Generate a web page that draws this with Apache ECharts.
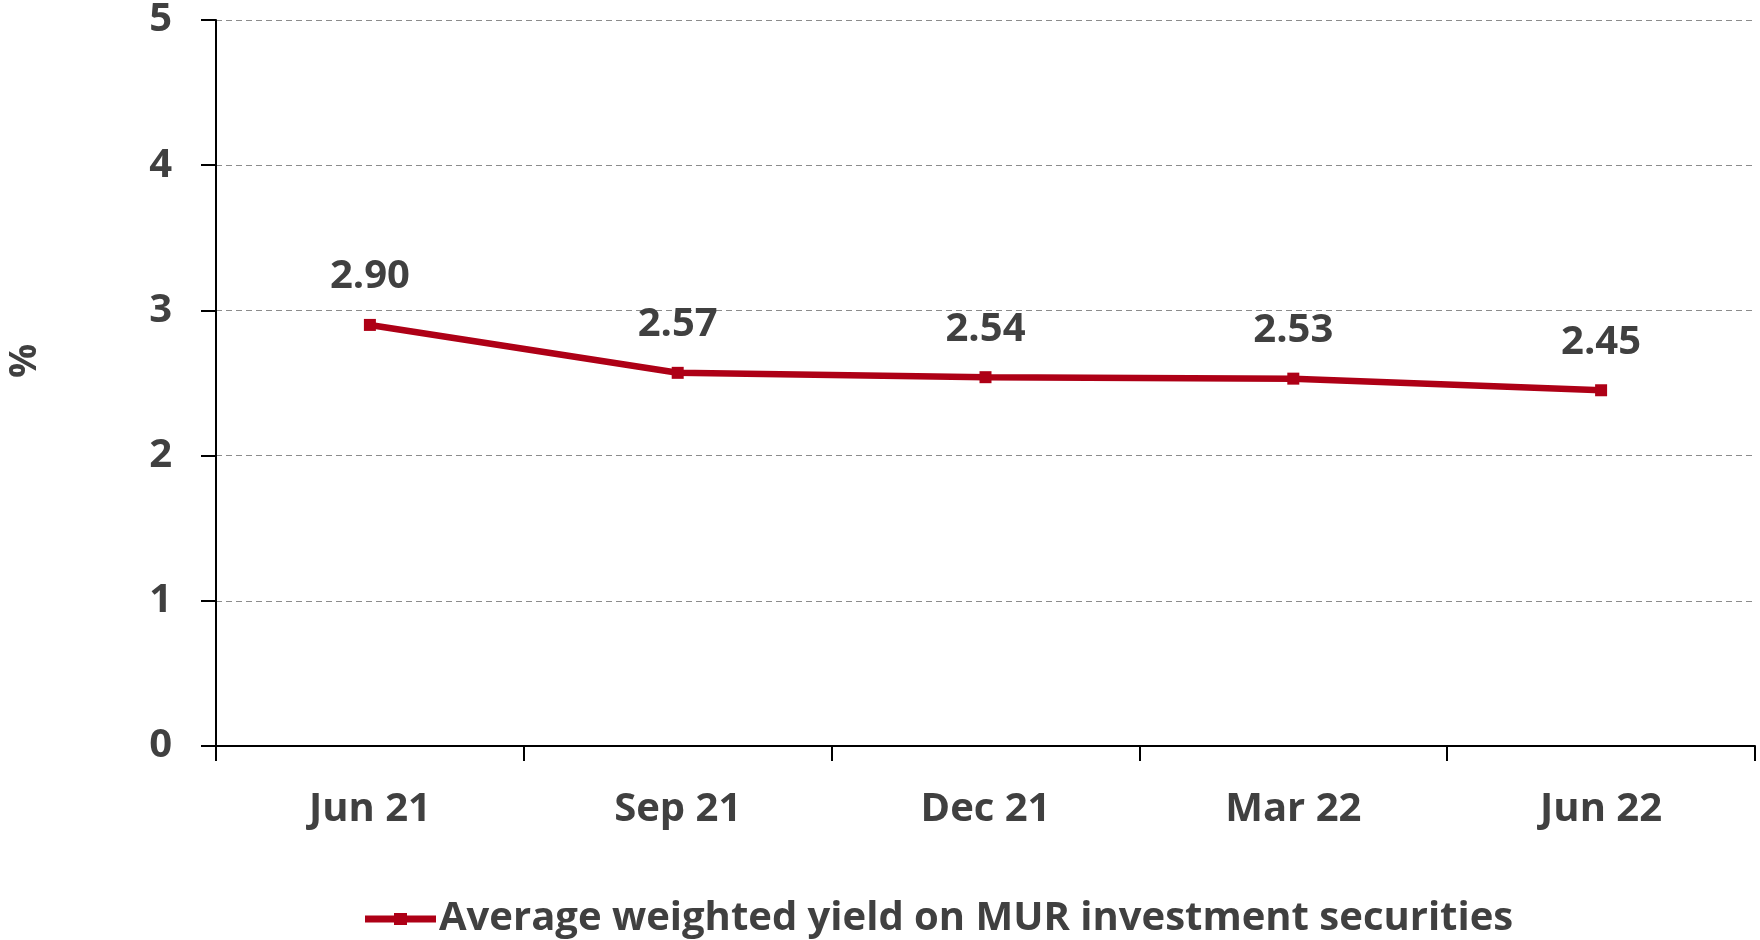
<!DOCTYPE html>
<html>
<head>
<meta charset="utf-8">
<script src="https://cdn.jsdelivr.net/npm/echarts@6/dist/echarts.min.js"></script>
<style>
  html, body { margin: 0; padding: 0; background: #fff; }
  #yield_line { width: 1760px; height: 940px; }
</style>
</head>
<body>
<div id="yield_line"></div>
<script>
// 季度
var quarters = ['Jun 21', 'Sep 21', 'Dec 21', 'Mar 22', 'Jun 22'];
// 收益率 %
var yieldValues = [2.90, 2.57, 2.54, 2.53, 2.45];
var seriesName = 'Average weighted yield on MUR investment securities';
var yTicks = { min: 0, max: 5, interval: 1 };

var textColor = '#404040';
var lineColor = '#AE0016';
var font = '"Open Sans", sans-serif';

var myChart = echarts.init(document.getElementById('yield_line'));
var option = {
    animation: false,
    grid: {
        left: 216,
        right: 5,
        top: 20,
        bottom: 194,
        outerBoundsMode: 'none'
    },
    legend: {
        data: [seriesName],
        left: 360,
        bottom: -4,
        itemWidth: 71,
        itemHeight: 12,
        itemGap: 0,
        // 图例图标：粗线加中间方块
        icon: 'path://M0,2.5 H29 V0 H42 V2.5 H71 V9.5 H42 V12 H29 V9.5 H0 Z',
        textStyle: {
            color: textColor,
            fontSize: 40,
            fontWeight: 'bold',
            fontFamily: font,
            padding: [0, 0, 0, -2]
        }
    },
    xAxis: {
        type: 'category',
        data: quarters,
        boundaryGap: true,
        axisLine: { lineStyle: { color: '#000', width: 2 } },
        axisTick: { show: true, length: 15, lineStyle: { color: '#000', width: 2 } },
        axisLabel: {
            color: textColor,
            fontSize: 40,
            fontWeight: 'bold',
            fontFamily: font,
            margin: 44
        }
    },
    yAxis: {
        type: 'value',
        min: yTicks.min,
        max: yTicks.max,
        interval: yTicks.interval,
        name: '%',
        nameLocation: 'middle',
        nameRotate: 90,
        nameGap: 172,
        nameTextStyle: {
            color: textColor,
            fontSize: 38,
            fontWeight: 'bold',
            fontFamily: font,
            padding: [0, 0, 0, 44]
        },
        axisLine: { show: true, lineStyle: { color: '#000', width: 2 } },
        axisTick: { show: true, length: 15, lineStyle: { color: '#000', width: 2 } },
        axisLabel: {
            color: textColor,
            fontSize: 40,
            fontWeight: 'bold',
            fontFamily: font,
            margin: 44
        },
        splitLine: {
            show: true,
            lineStyle: { color: '#8c8c8c', type: [6, 4], width: 1 }
        }
    },
    series: [{
        name: seriesName,
        type: 'line',
        data: yieldValues,
        symbol: 'rect',
        symbolSize: 12,
        lineStyle: { color: lineColor, width: 6.5 },
        itemStyle: { color: lineColor },
        label: {
            show: true,
            position: 'top',
            distance: 22,
            color: textColor,
            fontSize: 40,
            fontWeight: 'bold',
            fontFamily: font,
            formatter: function (p) { return p.value.toFixed(2); }
        }
    }]
};
myChart.setOption(option);
</script>
</body>
</html>
